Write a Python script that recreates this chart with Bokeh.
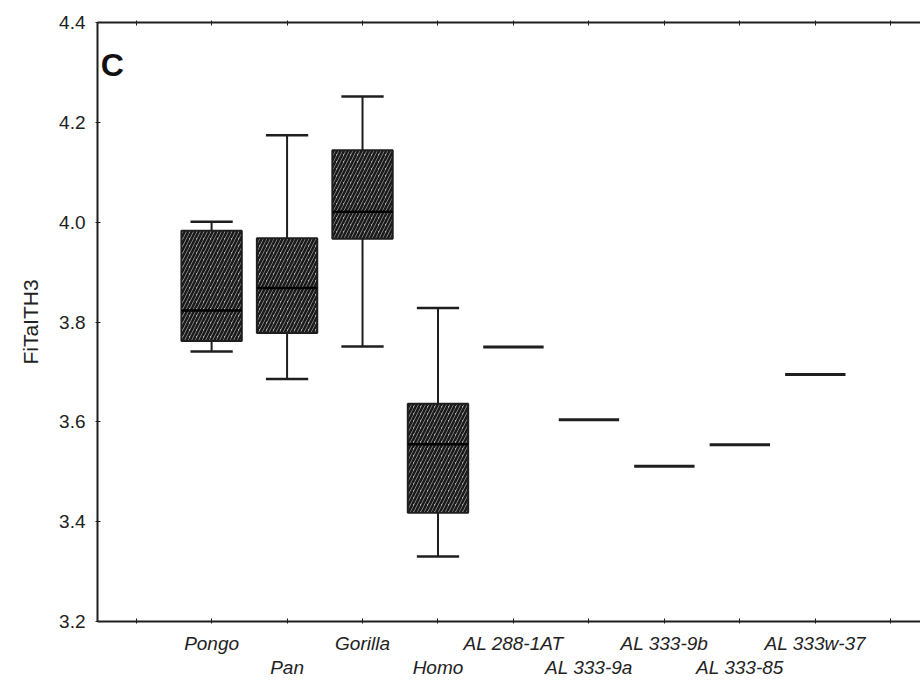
from bokeh.plotting import figure
from bokeh.models import LinearAxis, FixedTicker, Label, Range1d
from bokeh.embed import file_html
from bokeh.resources import INLINE

# ---- data ----
categories = ["Pongo", "Pan", "Gorilla", "Homo", "AL 288-1AT",
              "AL 333-9a", "AL 333-9b", "AL 333-85", "AL 333w-37"]
positions = [1, 2, 3, 4, 5, 6, 7, 8, 9]

box_groups = ["Pongo", "Pan", "Gorilla", "Homo"]
whisker_low = [3.741, 3.686, 3.751, 3.330]
q1 = [3.762, 3.778, 3.967, 3.418]
median = [3.823, 3.868, 4.021, 3.555]
q3 = [3.983, 3.968, 4.144, 3.636]
whisker_high = [4.001, 4.174, 4.252, 3.828]

single_groups = ["AL 288-1AT", "AL 333-9a", "AL 333-9b", "AL 333-85", "AL 333w-37"]
single_values = [3.750, 3.604, 3.511, 3.554, 3.695]

y_ticks = [3.2, 3.4, 3.6, 3.8, 4.0, 4.2, 4.4]
axis_ticks = list(range(0, 11))

# ---- figure ----
BOX_W = 0.8
CAP_W = 0.56
INK = "#1e1e1e"
TXT = "#222222"

p = figure(width=920, height=682, output_backend="svg", toolbar_location=None,
           x_range=Range1d(-0.512, 10.394), y_range=Range1d(3.2, 4.4),
           min_border_left=97, min_border_right=0, min_border_top=22,
           min_border_bottom=61, x_axis_location=None, y_axis_location=None)
p.outline_line_color = None
p.xgrid.visible = False
p.ygrid.visible = False
p.background_fill_color = "white"

pos_of = dict(zip(categories, positions))
bx = [pos_of[g] for g in box_groups]
sx = [pos_of[g] for g in single_groups]

# whiskers
p.segment(x0=bx, y0=q3, x1=bx, y1=whisker_high, line_color=INK, line_width=2)
p.segment(x0=bx, y0=q1, x1=bx, y1=whisker_low, line_color=INK, line_width=2)
p.segment(x0=[x - CAP_W / 2 for x in bx], y0=whisker_high,
          x1=[x + CAP_W / 2 for x in bx], y1=whisker_high, line_color=INK, line_width=2.5)
p.segment(x0=[x - CAP_W / 2 for x in bx], y0=whisker_low,
          x1=[x + CAP_W / 2 for x in bx], y1=whisker_low, line_color=INK, line_width=2.5)

# boxes
p.vbar(x=bx, width=BOX_W, bottom=q1, top=q3, fill_color="#b4b4b4",
       hatch_pattern="right_diagonal_line", hatch_color="#1a1a1a", hatch_weight=2.6,
       hatch_scale=7, line_color=INK, line_width=2)
p.segment(x0=[x - BOX_W / 2 for x in bx], y0=median,
          x1=[x + BOX_W / 2 for x in bx], y1=median, line_color="#000000", line_width=2.5)

# single specimens
p.segment(x0=[x - BOX_W / 2 for x in sx], y0=single_values,
          x1=[x + BOX_W / 2 for x in sx], y1=single_values, line_color=INK, line_width=3)

# ---- axes ----
left = LinearAxis(ticker=FixedTicker(ticks=y_ticks))
left.major_label_overrides = {t: f"{t:.1f}" for t in y_ticks}
left.axis_line_color = INK
left.axis_line_width = 2
left.major_tick_in = 3
left.major_tick_out = 2
left.major_tick_line_color = INK
left.minor_tick_line_color = None
left.major_label_text_font = "Liberation Sans"
left.major_label_text_font_size = "19px"
left.major_label_text_color = TXT
left.major_label_standoff = 10
left.axis_label = "FiTaITH3"
left.axis_label_text_font = "Liberation Sans"
left.axis_label_text_font_style = "normal"
left.axis_label_text_font_size = "21px"
left.axis_label_text_color = TXT
left.axis_label_standoff = 14
p.add_layout(left, "left")

top = LinearAxis(ticker=FixedTicker(ticks=axis_ticks))
top.axis_line_color = INK
top.axis_line_width = 2
top.major_tick_in = 3
top.major_tick_out = 2
top.major_tick_line_color = INK
top.minor_tick_line_color = None
top.major_label_text_font_size = "1px"
top.major_label_text_alpha = 0
top.major_label_standoff = 0
p.add_layout(top, "above")

odd_labels = {t: "" for t in axis_ticks}
for c, x in zip(categories, positions):
    if x % 2 == 1:
        odd_labels[x] = c
even_ticks = [x for x in positions if x % 2 == 0]
even_labels = {x: c for c, x in zip(categories, positions) if x % 2 == 0}

b1 = LinearAxis(ticker=FixedTicker(ticks=axis_ticks))
b1.major_label_overrides = odd_labels
b1.axis_line_color = INK
b1.axis_line_width = 2
b1.major_tick_in = 3
b1.major_tick_out = 2
b1.major_tick_line_color = INK
b1.minor_tick_line_color = None
b1.major_label_text_font = "Liberation Sans"
b1.major_label_text_font_style = "italic"
b1.major_label_text_font_size = "19px"
b1.major_label_text_color = TXT
b1.major_label_standoff = 9
p.add_layout(b1, "below")

b2 = LinearAxis(ticker=FixedTicker(ticks=even_ticks))
b2.major_label_overrides = even_labels
b2.axis_line_color = None
b2.major_tick_line_color = None
b2.minor_tick_line_color = None
b2.major_label_text_font = "Liberation Sans"
b2.major_label_text_font_style = "italic"
b2.major_label_text_font_size = "19px"
b2.major_label_text_color = TXT
b2.major_label_standoff = -6
p.add_layout(b2, "below")

p.add_layout(Label(x=-0.47, y=4.35, text="C", text_font="Liberation Sans",
                   text_font_style="bold", text_font_size="32px",
                   text_color="#111111", text_baseline="top", text_align="left"))

open("out.html", "w").write(file_html(p, INLINE))
